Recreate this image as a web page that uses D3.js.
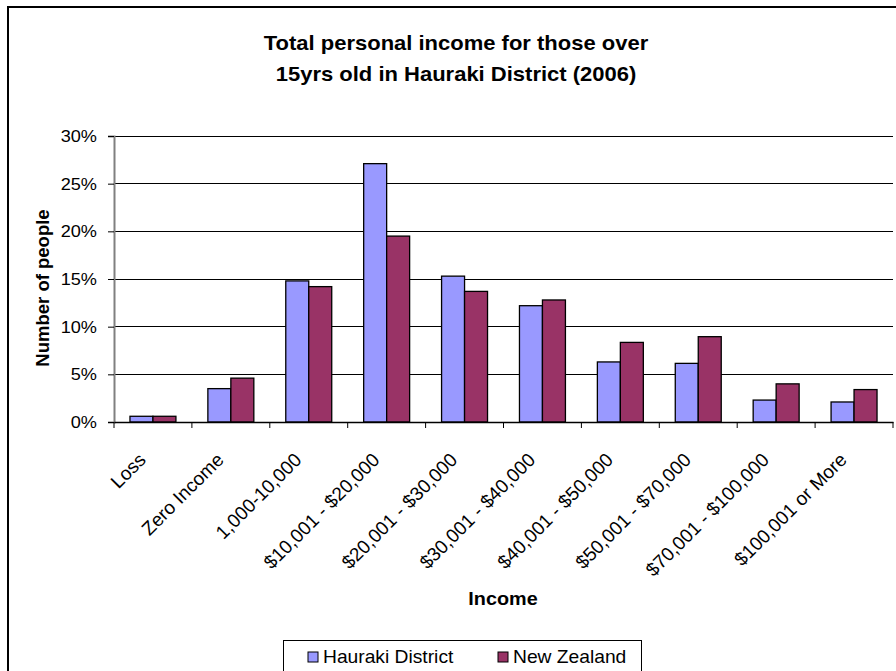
<!DOCTYPE html>
<html>
<head>
<meta charset="utf-8">
<script src="https://cdn.jsdelivr.net/npm/d3@7"></script>
<style>
  html, body { margin: 0; padding: 0; background: #fff; }
  svg { display: block; font-family: "Liberation Sans", Arial, sans-serif; }
</style>
</head>
<body>
<svg id="chart" width="896" height="671"></svg>
<script>
const categories = ["Loss", "Zero Income", "1,000-10,000", "$10,001 - $20,000", "$20,001 - $30,000",
  "$30,001 - $40,000", "$40,001 - $50,000", "$50,001 - $70,000", "$70,001 - $100,000", "$100,001 or More"];
const seriesNames = ["Hauraki District", "New Zealand"];
const hauraki = [0.6, 3.5, 14.8, 27.1, 15.3, 12.2, 6.3, 6.15, 2.3, 2.1];
const newZealand = [0.6, 4.6, 14.2, 19.5, 13.7, 12.8, 8.35, 8.95, 4.0, 3.4];
const yTicks = [0, 5, 10, 15, 20, 25, 30];
const titleLines = ["Total personal income for those over", "15yrs old in Hauraki District (2006)"];
const colors = ["#9999FF", "#993366"];

const svg = d3.select("#chart");
const SX = 1.1; // horizontal stretch of the reference text

// outer border
svg.append("rect").attr("x", 8).attr("y", 7).attr("width", 910).attr("height", 700)
  .attr("fill", "#fff").attr("stroke", "#000").attr("stroke-width", 2);

const x = d3.scaleBand().domain(categories).range([114, 893]).paddingInner(0.41).paddingOuter(0.205);
const x1 = d3.scaleBand().domain(seriesNames).range([0, x.bandwidth()]);
const y = d3.scaleLinear().domain([0, 30]).range([422, 136]);

// gridlines
svg.append("g").selectAll("line").data(yTicks.filter(d => d > 0)).join("line")
  .attr("x1", 114).attr("x2", 893).attr("y1", d => y(d)).attr("y2", d => y(d))
  .attr("stroke", "#000").attr("stroke-width", 1).attr("shape-rendering", "crispEdges");

// y axis
const yAxis = svg.append("g").attr("transform", "translate(114,0)")
  .call(d3.axisLeft(y).tickValues(yTicks).tickSize(6).tickFormat(d => d + "%"));
yAxis.select(".domain").attr("stroke", "#808080").attr("stroke-width", 2);
yAxis.selectAll(".tick line").attr("stroke", "#000");
yAxis.selectAll(".tick text").remove();
svg.append("g").selectAll("text").data(yTicks).join("text")
  .attr("transform", d => `translate(97,${y(d) + 6}) scale(${SX},1)`)
  .attr("text-anchor", "end").attr("font-size", 16.5).attr("fill", "#000")
  .text(d => d + "%");

// bars
const data = categories.map((c, i) => ({ c, vals: [hauraki[i], newZealand[i]] }));
const groups = svg.append("g").selectAll("g").data(data).join("g")
  .attr("transform", d => `translate(${x(d.c)},0)`);
groups.selectAll("rect").data(d => d.vals.map((v, j) => ({ v, s: seriesNames[j], j }))).join("rect")
  .attr("x", d => x1(d.s)).attr("width", x1.bandwidth())
  .attr("y", d => y(d.v)).attr("height", d => y(0) - y(d.v))
  .attr("fill", d => colors[d.j]).attr("stroke", "#000").attr("stroke-width", 1.3);

// x axis
const xAxis = svg.append("g").attr("transform", "translate(0,422)")
  .call(d3.axisBottom(x).tickSize(0).tickFormat(""));
xAxis.select(".domain").attr("stroke", "#000").attr("stroke-width", 1.5);
const step = x.step();
svg.append("g").selectAll("line").data(d3.range(categories.length + 1)).join("line")
  .attr("x1", i => 114 + i * step).attr("x2", i => 114 + i * step)
  .attr("y1", 422).attr("y2", 428).attr("stroke", "#000");
svg.append("g").selectAll("text").data(categories).join("text")
  .attr("transform", d => `translate(${x(d) + x.bandwidth() / 2 - 6},461) rotate(-45)`)
  .attr("text-anchor", "end").attr("font-size", 19).attr("fill", "#000")
  .text(d => d);

// titles
svg.append("g").selectAll("text").data(titleLines).join("text")
  .attr("transform", (d, i) => `translate(456,${50 + i * 31}) scale(${SX},1)`)
  .attr("text-anchor", "middle").attr("font-size", 20).attr("font-weight", "bold")
  .text(d => d);

svg.append("text").attr("transform", `translate(503,605) scale(${SX},1)`)
  .attr("text-anchor", "middle").attr("font-size", 18).attr("font-weight", "bold").text("Income");

svg.append("text").attr("transform", "translate(49,288) rotate(-90)")
  .attr("text-anchor", "middle").attr("font-size", 18.5).attr("font-weight", "bold").text("Number of people");

// legend
svg.append("rect").attr("x", 283.5).attr("y", 640.5).attr("width", 358).attr("height", 50)
  .attr("fill", "#fff").attr("stroke", "#000").attr("stroke-width", 1);
const legendX = [308, 498];
const lg = svg.append("g").selectAll("g").data(seriesNames).join("g")
  .attr("transform", (d, i) => `translate(${legendX[i]},652)`);
lg.append("rect").attr("width", 10).attr("height", 10)
  .attr("fill", (d, i) => colors[i]).attr("stroke", "#000").attr("stroke-width", 1);
lg.append("text").attr("transform", `translate(15,11) scale(${SX},1)`)
  .attr("font-size", 17.5).text(d => d);
</script>
</body>
</html>
